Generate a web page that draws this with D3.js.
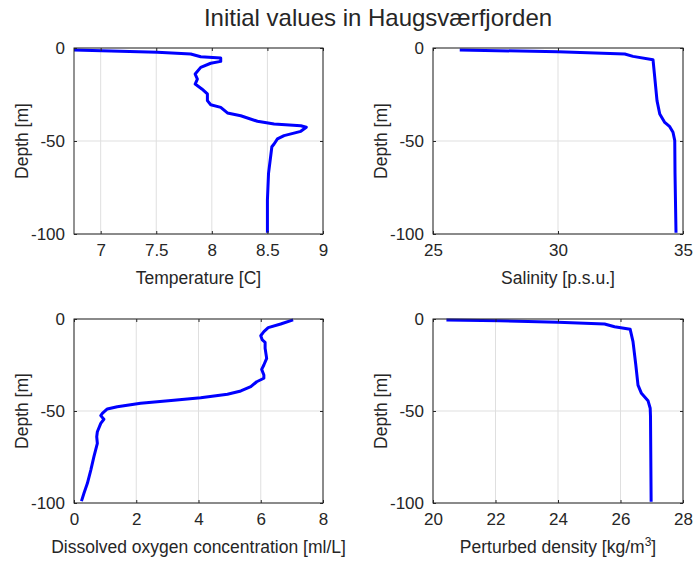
<!DOCTYPE html>
<html>
<head>
<meta charset="utf-8">
<script src="https://cdn.jsdelivr.net/npm/d3@7"></script>
<style>
  body { margin: 0; background: #fff; }
  text { font-family: "Liberation Sans", Arial, Helvetica, sans-serif; fill: #262626; }
</style>
</head>
<body>
<svg id="chart" width="696" height="564"></svg>
<script>
// Temperature profile [C]
const tempDepth = [-1.1, -2.3, -3.2, -4.7, -5.4, -7.2, -8.2, -10.4, -14, -16.7, -19.4, -22, -24.7, -28.3, -30.5, -31.9, -34.9, -36.4, -39.4, -40.9, -41.8, -42.6, -44.8, -47.1, -48.9, -51.6, -53.1, -67.4, -81.7, -99.3];
const tempValues = [6.76, 7.51, 7.81, 7.90, 8.08, 8.08, 7.99, 7.90, 7.85, 7.87, 7.85, 7.91, 7.96, 7.96, 7.99, 8.08, 8.14, 8.26, 8.41, 8.56, 8.80, 8.85, 8.80, 8.65, 8.59, 8.56, 8.54, 8.51, 8.50, 8.50];

// Salinity profile [p.s.u.]
const salDepth = [-1.1, -2.0, -3.2, -4.5, -6.3, -15.8, -28.3, -35.5, -40, -42.3, -45.3, -49.8, -67, -99.3];
const salValues = [26.07, 30.0, 32.67, 33.0, 33.8, 33.87, 33.96, 34.07, 34.27, 34.47, 34.6, 34.67, 34.68, 34.72];

// Dissolved oxygen profile [ml/L]
const oxyDepth = [-0.5, -2.7, -4.7, -6.9, -9.1, -11.4, -12.7, -15.9, -21.4, -25, -27.4, -30.4, -32.2, -34.1, -36.8, -39.1, -40.9, -42.8, -44.2, -45.8, -47.7, -48.9, -51.3, -52.5, -54.5, -56.7, -61.3, -64, -67.6, -74.8, -82.1, -89.3, -94.7, -99];
const oxyValues = [7.04, 6.64, 6.24, 6.10, 6.0, 6.05, 6.14, 6.14, 6.19, 6.10, 6.03, 6.10, 6.10, 5.87, 5.68, 5.36, 4.93, 4.07, 3.21, 2.14, 1.39, 1.07, 0.91, 0.86, 0.96, 0.86, 0.75, 0.73, 0.75, 0.64, 0.54, 0.43, 0.32, 0.24];

// Perturbed density profile [kg/m^3]
const rhoDepth = [-0.5, -0.9, -1.8, -2.7, -4.2, -5.6, -12.3, -25, -35.9, -40.4, -44.4, -48.5, -53, -99.3];
const rhoValues = [20.43, 22.13, 24.0, 25.49, 25.81, 26.31, 26.4, 26.49, 26.56, 26.67, 26.88, 26.95, 26.96, 26.98];

// Tick values
const depthTicks = [0, -50, -100];
const tempTicks = [7, 7.5, 8, 8.5, 9];
const salTicks = [25, 30, 35];
const oxyTicks = [0, 2, 4, 6, 8];
const rhoTicks = [20, 22, 24, 26, 28];

const svg = d3.select("#chart");
const axisColor = "#262626";
const gridColor = "#dfdfdf";

svg.append("text")
  .attr("x", 378).attr("y", 26)
  .attr("text-anchor", "middle")
  .style("font-size", "24px")
  .text("Initial values in Haugsværfjorden");

function panel(opt) {
  const { left, top, width, height, xDomain, xTicks, depths, values, xLabel } = opt;
  const g = svg.append("g").attr("transform", `translate(${left},${top})`);
  const x = d3.scaleLinear().domain(xDomain).range([0, width]);
  const y = d3.scaleLinear().domain([-100, 0]).range([height, 0]);

  // grid
  g.selectAll(".gx").data(xTicks).enter().append("line")
    .attr("x1", d => x(d)).attr("x2", d => x(d))
    .attr("y1", 0).attr("y2", height)
    .attr("stroke", gridColor).attr("stroke-width", 1);
  g.selectAll(".gy").data(depthTicks).enter().append("line")
    .attr("x1", 0).attr("x2", width)
    .attr("y1", d => y(d)).attr("y2", d => y(d))
    .attr("stroke", gridColor).attr("stroke-width", 1);

  // profile line
  const pts = depths.map((d, i) => [values[i], d]);
  g.append("path")
    .datum(pts)
    .attr("d", d3.line().x(p => x(p[0])).y(p => y(p[1])))
    .attr("fill", "none")
    .attr("stroke", "#0000ff")
    .attr("stroke-width", 3)
    .attr("stroke-linejoin", "round")
    .attr("stroke-linecap", "butt");

  // axes with inward ticks, mirrored on top/right
  const tl = 3;
  const fmt = d => String(d);
  g.append("g").attr("transform", `translate(0,${height})`)
    .call(d3.axisBottom(x).tickValues(xTicks).tickSizeInner(-tl).tickSizeOuter(0).tickPadding(10).tickFormat(fmt));
  g.append("g")
    .call(d3.axisTop(x).tickValues(xTicks).tickSizeInner(-tl).tickSizeOuter(0).tickFormat(""));
  g.append("g")
    .call(d3.axisLeft(y).tickValues(depthTicks).tickSizeInner(-tl).tickSizeOuter(0).tickPadding(9).tickFormat(fmt));
  g.append("g").attr("transform", `translate(${width},0)`)
    .call(d3.axisRight(y).tickValues(depthTicks).tickSizeInner(-tl).tickSizeOuter(0).tickFormat(""));

  g.selectAll(".domain").remove();
  g.selectAll(".tick line").attr("stroke", axisColor).attr("stroke-width", 1);
  g.selectAll(".tick text").style("font-size", "17px").attr("fill", axisColor);

  g.append("rect")
    .attr("x", 0).attr("y", 0).attr("width", width).attr("height", height)
    .attr("fill", "none").attr("stroke", axisColor).attr("stroke-width", 1);

  // labels
  const xl = g.append("text")
    .attr("x", width / 2).attr("y", height + 50)
    .attr("text-anchor", "middle")
    .style("font-size", "17.5px");
  xLabel(xl);

  g.append("text")
    .attr("transform", `translate(-46,${height / 2}) rotate(-90)`)
    .attr("text-anchor", "middle")
    .style("font-size", "17.5px")
    .text("Depth [m]");
}

panel({
  left: 74, top: 48, width: 249, height: 186,
  xDomain: [d3.min(tempValues), 9], xTicks: tempTicks,
  depths: tempDepth, values: tempValues,
  xLabel: t => t.text("Temperature [C]")
});
panel({
  left: 433, top: 48, width: 250, height: 186,
  xDomain: [25, 35], xTicks: salTicks,
  depths: salDepth, values: salValues,
  xLabel: t => t.text("Salinity [p.s.u.]")
});
panel({
  left: 74, top: 319, width: 249, height: 184,
  xDomain: [0, 8], xTicks: oxyTicks,
  depths: oxyDepth, values: oxyValues,
  xLabel: t => t.text("Dissolved oxygen concentration [ml/L]")
});
panel({
  left: 433, top: 319, width: 250, height: 184,
  xDomain: [20, 28], xTicks: rhoTicks,
  depths: rhoDepth, values: rhoValues,
  xLabel: t => {
    t.append("tspan").text("Perturbed density [kg/m");
    t.append("tspan").attr("baseline-shift", "super").style("font-size", "12px").text("3");
    t.append("tspan").text("]");
  }
});
</script>
</body>
</html>
